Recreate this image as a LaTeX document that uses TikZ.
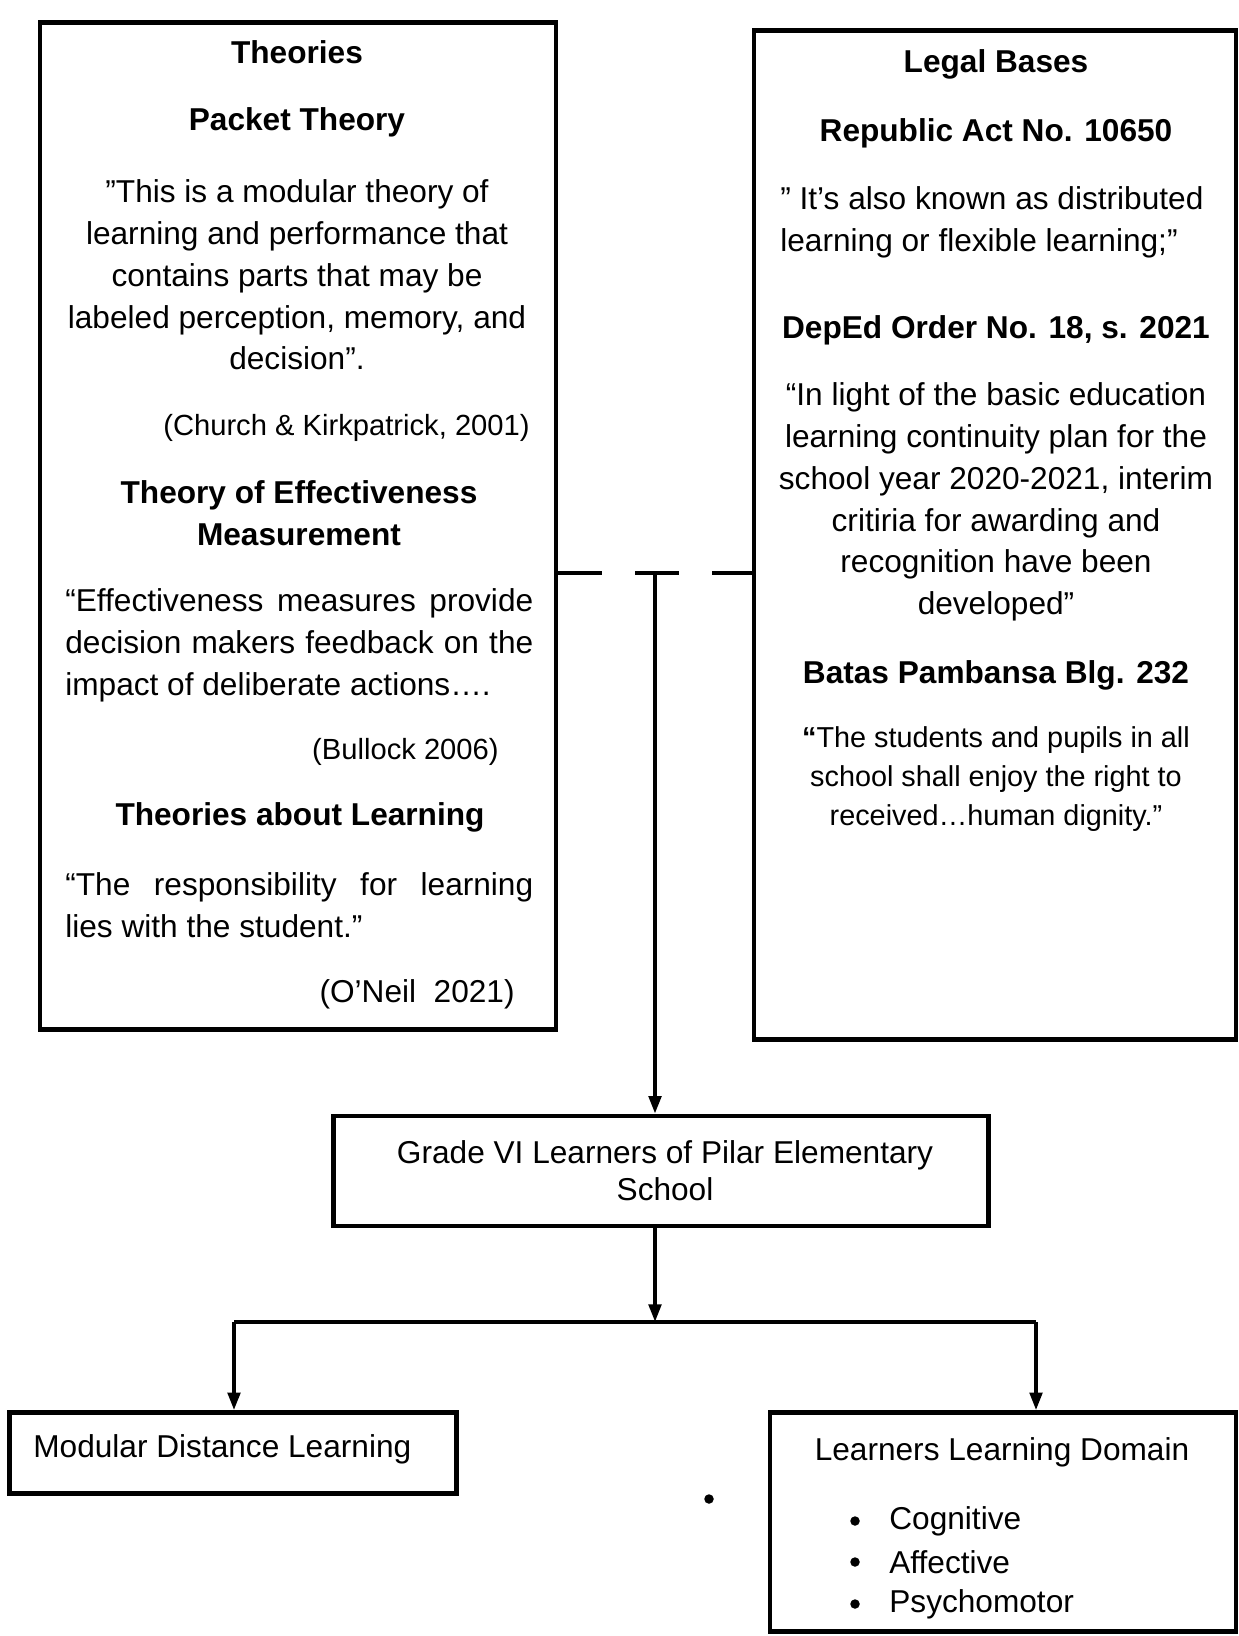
\documentclass[tikz,border=0pt]{standalone}
\usepackage{fontspec}
\setmainfont{Liberation Sans}
\usetikzlibrary{arrows.meta,positioning}

\newcommand{\fitline}[1]{\makebox[9.36cm][s]{#1}}

\begin{document}
\begin{tikzpicture}[x=0.02cm,y=-0.02cm]
\tikzstyle{box}=[draw,line width=2.6pt,inner sep=0pt];
\tikzstyle{txt}=[inner sep=0pt,align=center,font=\fontsize{18}{23.8}\selectfont];
\tikzstyle{head}=[txt,font=\fontsize{18}{23.8}\selectfont\bfseries];
\tikzstyle{note}=[inner sep=0pt,align=center,font=\fontsize{16.4}{22}\selectfont];
\tikzstyle{cite}=[inner sep=0pt,font=\fontsize{16.6}{22}\selectfont];
\tikzstyle{dotmark}=[circle,fill,inner sep=0pt,minimum size=0.19cm];
\tikzstyle{link}=[line width=2.2pt];
\tikzstyle{arr}=[link,-{Triangle[length=10pt,width=7pt]}];

\useasboundingbox (0,0) rectangle (1239,1636);

  % boxes
  \node[box,minimum width=10.32cm,minimum height=20.14cm] (theories) at (298,526) {};
  \node[box,minimum width=9.64cm,minimum height=20.18cm] (legal) at (995,535) {};
  \node[box,minimum width=13.1cm,minimum height=2.2cm] (grade) at (661,1171) {};
  \node[box,minimum width=8.94cm,minimum height=1.62cm] (modular) at (233,1453) {};
  \node[box,minimum width=9.32cm,minimum height=4.38cm] (domain) at (1003,1522) {};

  % theories
  \node[head] (theo) at (297,52) {Theories};
  \node[head] (packet) at (297,122) {Packet Theory};
  \node[txt] (packetq) at (297,275) {"This is a modular theory of\\learning and performance that\\contains parts that may be\\labeled perception, memory, and\\decision".};
  \node[cite,anchor=east] (church) at (530,428) {(Church \& Kirkpatrick, 2001)};
  \node[head] (effect) at (299,513) {Theory of Effectiveness\\Measurement};
  \node[txt,align=left,anchor=west] (effectq) at (65,645) {\fitline{“Effectiveness measures provide}\\\fitline{decision makers feedback on the}\\impact of deliberate actions….};
  \node[cite,anchor=east] (bullock) at (499,752) {(Bullock 2006)};
  \node[head] (learn) at (300,817) {Theories about Learning};
  \node[txt,align=left,anchor=west] (learnq) at (65,905) {\fitline{“The responsibility for learning}\\lies with the student.”};
  \node[txt,anchor=east] (oneil) at (515,994) {(O’Neil~~2021)};

  % legal bases
  \node[head] (legalt) at (996,64) {Legal Bases};
  \node[head] (ra) at (996,133) {Republic Act No. 10650};
  \node[txt,align=left,anchor=west] (raq) at (780,222) {" It’s also known as distributed\\learning or flexible learning;”};
  \node[head] (deped) at (996,330) {DepEd Order No. 18, s. 2021};
  \node[txt] (depedq) at (996,502) {“In light of the basic education\\learning continuity plan for the\\school year 2020-2021, interim\\critiria for awarding and\\recognition have been\\developed”};
  \node[head] (bp) at (996,675) {Batas Pambansa Blg. 232};
  \node[note] (bpq) at (996,779) {\textbf{“}The students and pupils in all\\school shall enjoy the right to\\received…human dignity.”};

  % lower boxes
  \node[txt,font=\fontsize{18}{21}\selectfont] (gradet) at (665,1171) {Grade VI Learners of Pilar Elementary\\School};
  \node[txt,anchor=west] (modulart) at (33,1449) {Modular Distance Learning};
  \node[txt] (domaint) at (1002,1452) {Learners Learning Domain};
  \foreach \name/\word/\yy in {cog/Cognitive/1521, aff/Affective/1562, psy/Psychomotor/1604}
  {
    \node[dotmark] (b\name) at (855,\yy) {};
    \node[txt,anchor=west] (\name) at (889,\yy) {\word};
  }
  \node[dotmark] (dot) at (709,1499) {};

  % connectors
  \coordinate (tee) at (655,573);
  \coordinate (fork) at (655,1322);
  \coordinate (lfork) at (234,1322);
  \coordinate (rfork) at (1036,1322);
  \draw[link,dash pattern=on 0.88cm off 0.66cm] (theories.east |- tee) -- (legal.west |- tee);
  \draw[arr] (tee) -- (grade.north -| tee);
  \draw[arr] (grade.south -| fork) -- (fork);
  \draw[link] (lfork) -- (rfork);
  \foreach \from/\to in {lfork/modular, rfork/domain}
    \draw[arr] (\from) -- (\to.north -| \from);

\end{tikzpicture}
\end{document}
